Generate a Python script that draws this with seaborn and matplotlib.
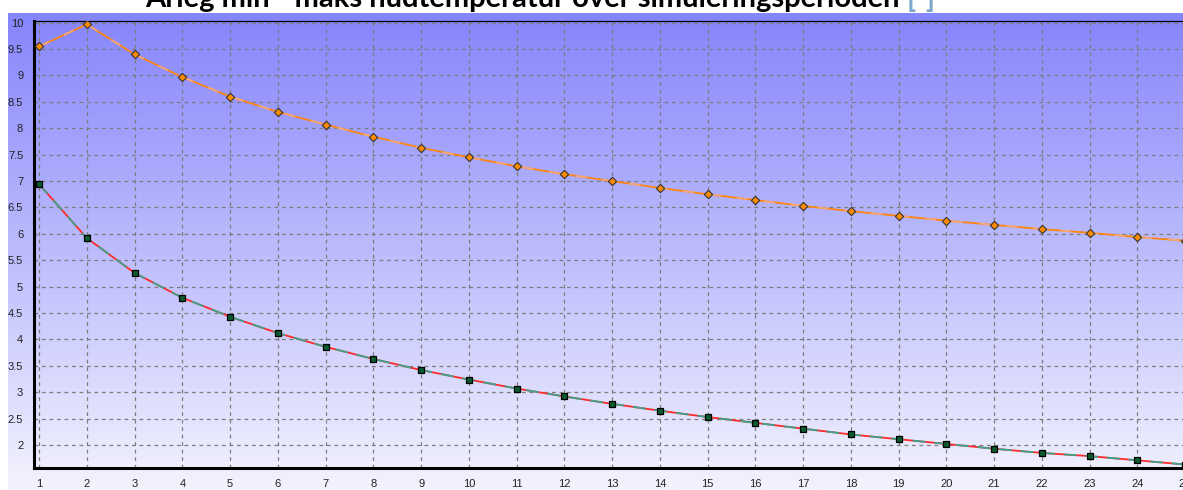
import numpy as np
import pandas as pd
import matplotlib
matplotlib.use("Agg")
import matplotlib.pyplot as plt
from matplotlib.ticker import MultipleLocator, FormatStrFormatter
import seaborn as sns

# Data
years = list(range(1, 26))
max_temp = [9.55, 9.97, 9.40, 8.97, 8.60, 8.31, 8.07, 7.84, 7.63, 7.45,
            7.28, 7.13, 7.00, 6.87, 6.75, 6.64, 6.53, 6.43, 6.34, 6.25,
            6.17, 6.09, 6.02, 5.94, 5.87]
min_temp = [6.94, 5.92, 5.26, 4.79, 4.43, 4.12, 3.86, 3.63, 3.42, 3.24,
            3.07, 2.92, 2.78, 2.65, 2.53, 2.42, 2.31, 2.20, 2.11, 2.02,
            1.93, 1.85, 1.79, 1.71, 1.63]
y_ticks = [2, 2.5, 3, 3.5, 4, 4.5, 5, 5.5, 6, 6.5, 7, 7.5, 8, 8.5, 9, 9.5, 10]
title_main = "Årleg min - maks hudtemperatur over simuleringsperioden "
title_unit = "[-]"

sns.set_style("white")
plt.rcParams["font.family"] = ["Liberation Sans", "DejaVu Sans"]

W, H = 1183, 490
fig = plt.figure(figsize=(W / 100, H / 100), dpi=100)

# bakgrunn med blå gradient
bg = fig.add_axes([8 / W, 0, 1 - 8 / W, 1 - 13 / H], zorder=0)
grad = np.linspace(0, 1, 256)[:, None, None]
top = np.array([133, 133, 252]) / 255
bot = np.array([243, 243, 254]) / 255
img = top + (bot - top) * grad
bg.imshow(img, aspect="auto", extent=[0, 1, 0, 1], origin="upper")
bg.axis("off")

ax = fig.add_axes([34.3 / W, 1 - 468.3 / H, (1209 - 34.3) / W, (468.3 - 20.7) / H], zorder=1)
ax.patch.set_alpha(0)

df = pd.DataFrame({"year": years, "max": max_temp, "min": min_temp})

# min-kurve: rød og grønn linje oppå hverandre
sns.lineplot(data=df, x="year", y="min", ax=ax, color="#ff2a2a", lw=1.3, zorder=3)
sns.lineplot(data=df, x="year", y="min", ax=ax, color="#3aa58a", lw=1.3,
             linestyle=(0, (7, 5)), zorder=3)
sns.scatterplot(data=df, x="year", y="min", ax=ax, marker="s", s=17,
                color="#0b5a30", edgecolor="black", linewidth=0.9, zorder=4)

# maks-kurve
sns.lineplot(data=df, x="year", y="max", ax=ax, color="#ff8410", lw=1.3, zorder=3)
sns.lineplot(data=df, x="year", y="max", ax=ax, color="#f6a878", lw=1.3,
             linestyle=(0, (6, 9)), zorder=3)
sns.scatterplot(data=df, x="year", y="max", ax=ax, marker="D", s=18,
                color="#ff8c00", edgecolor="#333333", linewidth=0.8, zorder=4)

ax.set_xlim(0.9, 25.5)
ax.set_ylim(1.559, 10.038)
ax.set_xlabel("")
ax.set_ylabel("")

ax.set_xticks(years)
ax.xaxis.set_minor_locator(MultipleLocator(0.25))
ax.set_yticks(y_ticks)
ax.yaxis.set_major_formatter(FormatStrFormatter("%g"))

ax.grid(True, which="major", color="#7c7c7c", linestyle=(0, (3, 3)), lw=0.9)
ax.set_axisbelow(True)

ax.tick_params(axis="both", which="major", length=5, width=0.9, color="#7c7c7c",
               labelsize=8, labelcolor="#222222", pad=3)
ax.tick_params(axis="x", which="minor", length=2.5, width=0.8, color="black")
ax.tick_params(axis="y", which="minor", length=0)

for side in ["left", "bottom"]:
    ax.spines[side].set_linewidth(2.2)
    ax.spines[side].set_color("black")
ax.spines["top"].set_linewidth(0.9)
ax.spines["top"].set_color("black")
ax.spines["right"].set_visible(False)

# tittel (toppen er kuttet i originalen)
x0 = 145 / W
t1 = fig.text(x0, 1 - 7 / H, title_main, ha="left", va="baseline",
              fontsize=21, fontweight="bold", color="black",
              family=["Lato", "DejaVu Sans"])
fig.canvas.draw()
bb = t1.get_window_extent()
fig.text(bb.x1 / W, 1 - 7 / H, title_unit, ha="left", va="baseline",
         fontsize=21, fontweight="bold", color="#7fa7c9",
         family=["Lato", "DejaVu Sans"])

fig.savefig("out.png", dpi=100)
